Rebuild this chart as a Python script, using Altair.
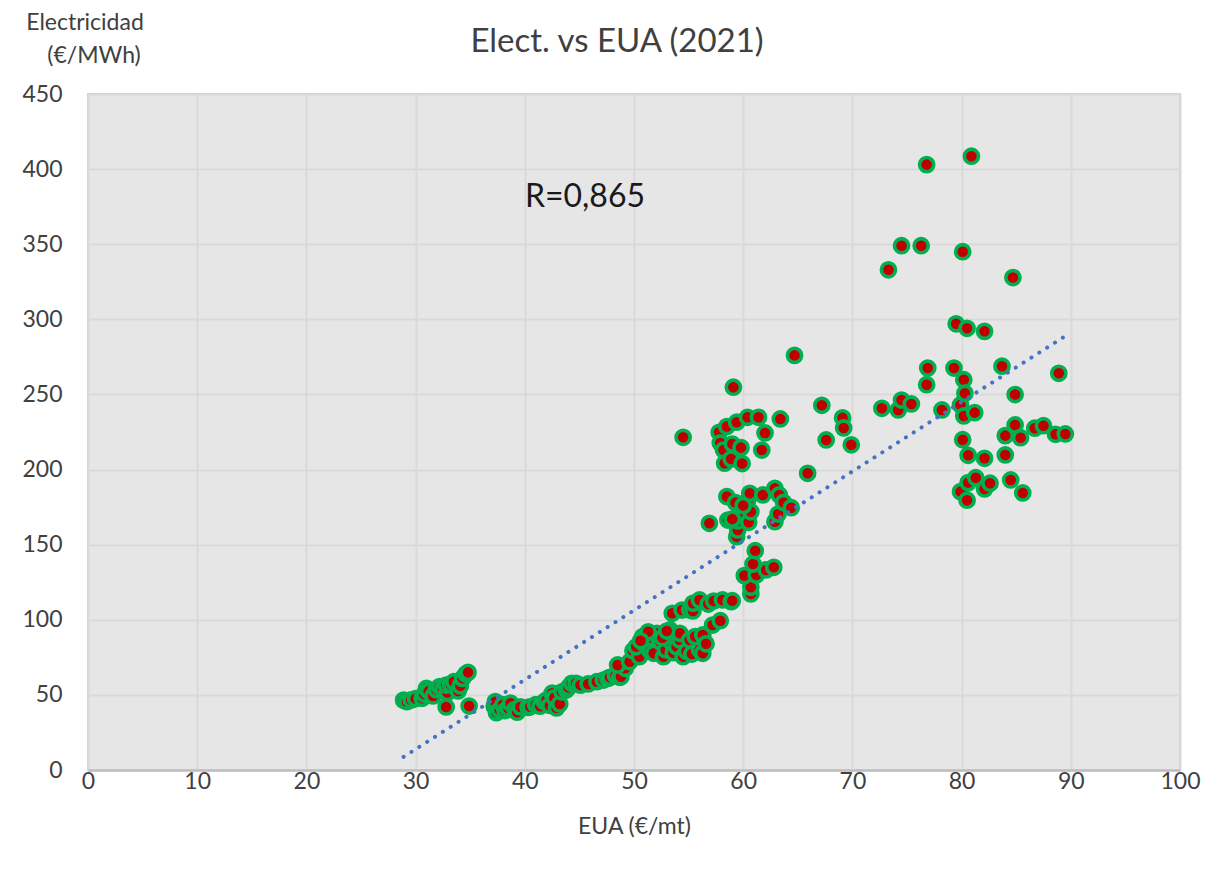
import altair as alt
import pandas as pd

# EUA price (€/mt) and electricity price (€/MWh), 2021
eua = [
    28.9, 29.2, 29.6, 30.0, 30.6, 30.8, 31.0, 31.2, 31.6, 31.9, 32.2, 32.5, 32.9, 32.8, 33.2, 33.5, 33.9, 34.1, 34.3, 34.6, 34.8, 32.8, 34.9,
    37.2, 37.3, 37.4, 37.7, 38.0, 38.2, 38.5, 38.7, 39.1, 39.3, 39.6, 40.3, 40.5, 41.0, 41.4, 41.8, 42.0, 42.3, 42.5, 42.7, 42.9, 43.2,
    43.4, 43.8, 44.0, 44.3, 44.7, 45.1, 45.8, 46.6, 47.2, 47.6, 47.8, 48.3, 48.7, 48.8, 49.2, 48.5, 49.6, 49.9, 50.5, 50.2, 50.9,
    50.8, 51.2, 51.5, 51.8, 52.1, 52.4, 52.7, 52.9, 53.3, 53.4, 53.6, 53.9, 54.2, 54.2, 54.5, 54.8, 55.1, 55.3, 55.6, 56.0, 56.3, 56.3,
    56.6, 57.2, 57.9, 53.5, 54.4, 55.1, 55.4, 55.4, 56.0, 56.8, 57.3, 58.1, 58.9, 59.0, 51.3, 52.6, 53.0, 50.6,
    60.7, 60.7, 60.1, 61.2, 62.1, 62.8, 60.9, 61.1,
    56.9, 58.5, 58.6, 59.3, 59.4, 59.5, 59.5, 60.1, 60.4, 60.5, 60.6, 60.7, 61.8, 62.9, 62.9, 63.2, 63.3, 63.7, 64.4, 59.0, 60.0,
    54.5, 57.8, 57.9, 58.2, 58.3, 58.5, 58.9, 59.0, 59.1, 59.4, 59.8, 59.9, 60.4, 61.4, 61.7, 62.0, 63.4, 64.7,
    65.9, 67.2, 67.6, 69.1, 69.2, 69.9,
    72.7, 73.3, 74.2, 74.5, 74.5, 75.4, 76.3, 76.8, 76.9, 76.8, 78.2, 79.3, 79.5, 79.9, 79.9, 80.1, 80.1, 80.2, 80.2, 80.3, 80.5,
    80.5, 80.6, 80.6, 80.9, 81.2, 81.3, 82.1, 82.1, 82.1, 82.6, 83.7, 84.0, 84.0, 84.5, 84.7, 84.9, 84.9, 85.4, 85.6, 86.7, 87.5,
    88.6, 88.9, 89.5,
]
elec = [
    46.5, 45.5, 46.6, 47.5, 47.7, 50.5, 54.4, 52.5, 49.3, 53.5, 55.5, 54.0, 51.5, 56.5, 57.0, 58.8, 52.6, 56.0, 61.0, 63.9, 65.0, 42.0, 42.6,
    42.5, 45.5, 38.2, 40.0, 43.5, 39.5, 41.0, 44.5, 40.4, 38.5, 42.0, 41.7, 42.1, 43.5, 42.5, 45.5, 46.6, 43.0, 51.1, 48.0, 41.3, 44.0,
    52.0, 53.3, 55.0, 57.7, 57.7, 56.5, 57.3, 58.8, 59.9, 61.0, 61.7, 63.0, 61.7, 62.1, 67.7, 69.9, 72.1, 79.4, 75.4, 82.0, 84.4,
    88.8, 83.2, 79.0, 77.7, 91.0, 85.4, 75.4, 80.0, 93.2, 85.4, 78.1, 82.0, 86.6, 91.0, 75.4, 79.0, 86.6, 77.2, 88.8, 80.0, 77.7, 89.9,
    84.0, 96.5, 99.4, 104.3, 106.5, 106.5, 105.9, 111.0, 113.2, 110.5, 112.5, 113.2, 112.0, 112.7, 92.0, 88.0, 92.5, 86.0,
    117.2, 121.6, 129.4, 129.8, 133.2, 134.9, 137.1, 146.0,
    164.2, 182.0, 166.4, 178.0, 155.3, 159.8, 165.8, 170.9, 179.0, 164.9, 184.2, 171.9, 183.1, 187.5, 165.3, 170.4, 183.1, 178.1, 174.6, 167.0, 176.0,
    221.5, 224.8, 217.7, 213.0, 204.2, 228.6, 207.0, 217.0, 254.8, 231.5, 214.6, 204.0, 234.8, 234.8, 213.0, 224.4, 233.7, 276.0,
    197.5, 242.8, 219.7, 234.4, 227.7, 216.5,
    240.8, 333.0, 239.7, 246.3, 349.0, 243.7, 349.0, 403.0, 267.6, 256.5, 239.7, 267.6, 297.0, 243.0, 185.3, 345.0, 219.9, 259.8, 235.7, 250.8, 294.0,
    179.6, 209.5, 191.3, 408.6, 237.9, 194.6, 292.0, 207.5, 187.1, 190.9, 268.8, 222.6, 209.7, 193.1, 327.8, 249.9, 229.7, 221.2, 184.4, 227.5, 229.2,
    223.5, 264.1, 223.7,
]

title_text = "Elect. vs EUA (2021)"
y_title_lines = ["Electricidad", "(€/MWh)"]
x_title = "EUA (€/mt)"
r_label = "R=0,865"

df = pd.DataFrame({"EUA": eua, "Elec": elec})

FONT = "Lato"
TXT = "#404040"
W, H = 1092, 676

xenc = alt.X(
    "EUA:Q",
    scale=alt.Scale(domain=[0, 100], nice=False, zero=False),
    axis=alt.Axis(
        values=list(range(0, 101, 10)),
        title=x_title,
        labelPadding=0,
        labelFlush=False,
        titlePadding=22,
        domainColor="#bfbfbf",
        domainWidth=2.5,
    ),
)
yenc = alt.Y(
    "Elec:Q",
    scale=alt.Scale(domain=[0, 450], nice=False),
    axis=alt.Axis(
        values=list(range(0, 451, 50)),
        title=None,
        labelPadding=26,
        labelFlush=False,
        domain=False,
    ),
)

points = alt.Chart(df).mark_circle(
    size=200, fill="#c00000", stroke="#00b050", strokeWidth=3.6, opacity=1
).encode(x=xenc, y=yenc)

trend = (
    alt.Chart(df)
    .transform_regression("EUA", "Elec")
    .mark_line(color="#4472c4", strokeWidth=4, strokeDash=[0.1, 9.2], strokeCap="round")
    .encode(x="EUA:Q", y="Elec:Q")
)

title = alt.Chart(pd.DataFrame({"t": [title_text]})).mark_text(
    font=FONT, fontSize=33, color=TXT, align="center", baseline="middle"
).encode(text="t:N", x=alt.value(529), y=alt.value(-52))

ytitle = alt.Chart(
    pd.DataFrame({"t": y_title_lines, "px": [-3, 6], "py": [-71, -38]})
).mark_text(font=FONT, fontSize=23, color=TXT, align="center", baseline="middle").encode(
    text="t:N",
    x=alt.X("px:Q", scale=None),
    y=alt.Y("py:Q", scale=None),
)

rtext = alt.Chart(pd.DataFrame({"t": [r_label]})).mark_text(
    font=FONT, fontSize=32, color="#1a1a1a", align="center", baseline="middle"
).encode(text="t:N", x=alt.value(497), y=alt.value(103))

chart = (
    alt.layer(points, trend, title, ytitle, rtext)
    .properties(
        width=W,
        height=H,
        padding={"left": 80, "top": 86, "right": 30, "bottom": 80},
        autosize=alt.AutoSizeParams(type="none"),
        background="white",
    )
    .configure_view(fill="#e6e6e6", stroke="#d0d0d0", strokeWidth=2)
    .configure_axis(
        grid=True,
        gridColor="#d9d9d9",
        gridWidth=2,
        ticks=False,
        labelFont=FONT,
        labelFontSize=23,
        labelColor=TXT,
        titleFont=FONT,
        titleFontSize=23,
        titleFontWeight="normal",
        titleColor=TXT,
    )
)

chart.save("out.html", embed_options={"renderer": "svg", "actions": False})
